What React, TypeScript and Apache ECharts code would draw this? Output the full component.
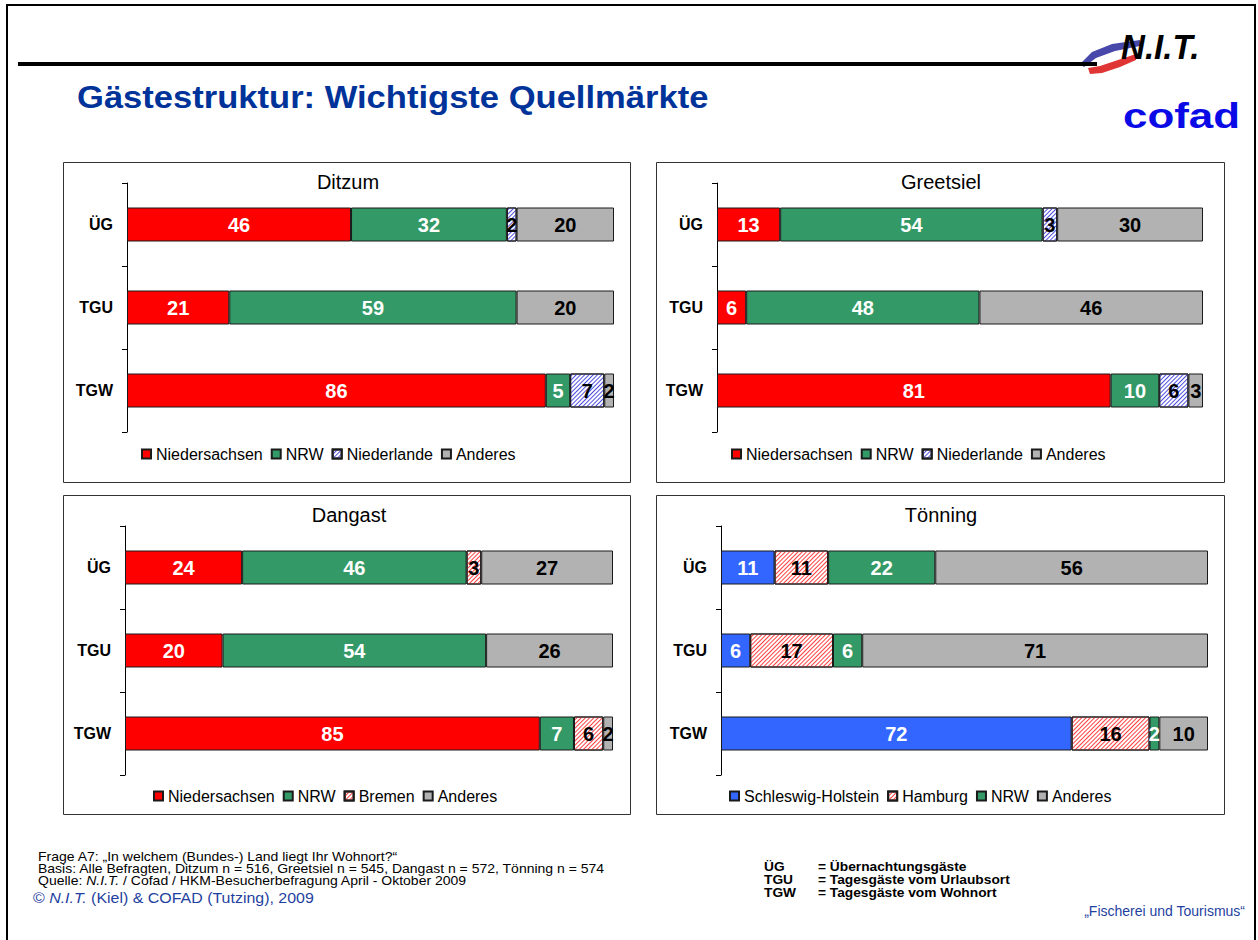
import { useEffect, useRef } from "react";
import * as echarts from "echarts";

// ---------- data ----------
const categories = ["ÜG", "TGU", "TGW"];

const ditzumNiedersachsen = [46, 21, 86];
const ditzumNRW = [32, 59, 5];
const ditzumNiederlande = [2, null, 7];
const ditzumAnderes = [20, 20, 2];

const greetsielNiedersachsen = [13, 6, 81];
const greetsielNRW = [54, 48, 10];
const greetsielNiederlande = [3, null, 6];
const greetsielAnderes = [30, 46, 3];

const dangastNiedersachsen = [24, 20, 85];
const dangastNRW = [46, 54, 7];
const dangastBremen = [3, null, 6];
const dangastAnderes = [27, 26, 2];

const toenningSchleswigHolstein = [11, 6, 72];
const toenningHamburg = [11, 17, 16];
const toenningNRW = [22, 6, 2];
const toenningAnderes = [56, 71, 10];

const panelTitles = ["Ditzum", "Greetsiel", "Dangast", "Tönning"];

const panelSeries = [
  [
    { name: "Niedersachsen", data: ditzumNiedersachsen },
    { name: "NRW", data: ditzumNRW },
    { name: "Niederlande", data: ditzumNiederlande },
    { name: "Anderes", data: ditzumAnderes },
  ],
  [
    { name: "Niedersachsen", data: greetsielNiedersachsen },
    { name: "NRW", data: greetsielNRW },
    { name: "Niederlande", data: greetsielNiederlande },
    { name: "Anderes", data: greetsielAnderes },
  ],
  [
    { name: "Niedersachsen", data: dangastNiedersachsen },
    { name: "NRW", data: dangastNRW },
    { name: "Bremen", data: dangastBremen },
    { name: "Anderes", data: dangastAnderes },
  ],
  [
    { name: "Schleswig-Holstein", data: toenningSchleswigHolstein },
    { name: "Hamburg", data: toenningHamburg },
    { name: "NRW", data: toenningNRW },
    { name: "Anderes", data: toenningAnderes },
  ],
];

// ---------- layout / style ----------
const FONT = '"Liberation Sans", Arial, Helvetica, sans-serif';
const BLUE_TEXT = "#003399";
const FOOT_BLUE = "#1f3f9f";

const layout = [
  { frame: [63, 162, 567, 320], grid: { left: 127, top: 183, width: 487, height: 249 }, title: [348, 182], legend: { left: 141, top: 446 } },
  { frame: [656, 162, 568, 320], grid: { left: 717, top: 183, width: 486, height: 249 }, title: [941, 182], legend: { left: 731, top: 446 } },
  { frame: [63, 495, 567, 319], grid: { left: 125, top: 526, width: 488, height: 249 }, title: [349, 515], legend: { left: 153, top: 788 } },
  { frame: [656, 495, 568, 319], grid: { left: 721, top: 526, width: 487, height: 249 }, title: [941, 515], legend: { left: 729, top: 788 } },
];

const hatch = (color: string, gap: number) => ({
  symbol: "rect",
  symbolSize: 1,
  color,
  dashArrayX: [1, 0],
  dashArrayY: [1, gap],
  rotation: -Math.PI / 4,
});

function styleFor(name: string) {
  switch (name) {
    case "Niedersachsen":
      return { item: { color: "#ff0000" }, label: "#ffffff" };
    case "NRW":
      return { item: { color: "#339966" }, label: "#ffffff" };
    case "Schleswig-Holstein":
      return { item: { color: "#3366ff" }, label: "#ffffff" };
    case "Niederlande":
      return { item: { color: "#ffffff", decal: hatch("#4f4fe0", 1.5) }, label: "#000000" };
    case "Bremen":
    case "Hamburg":
      return { item: { color: "#ffffff", decal: hatch("#ff4040", 2) }, label: "#000000" };
    default:
      return { item: { color: "#b2b2b2" }, label: "#000000" };
  }
}

function buildOption() {
  const grid = layout.map((l) => ({ ...l.grid, containLabel: false }));
  const xAxis = layout.map((_, i) => ({
    type: "value",
    gridIndex: i,
    min: 0,
    max: 100,
    show: false,
  }));
  const yAxis = layout.map((_, i) => ({
    type: "category",
    gridIndex: i,
    data: categories,
    inverse: true,
    axisLine: { show: true, lineStyle: { color: "#000000", width: 1 } },
    axisTick: { show: true, length: 5, lineStyle: { color: "#000000" } },
    axisLabel: {
      fontFamily: FONT,
      fontWeight: "bold",
      fontSize: 16,
      color: "#000000",
      margin: 14,
    },
    splitLine: { show: false },
  }));

  const series: any[] = [];
  panelSeries.forEach((list, i) => {
    list.forEach((s) => {
      const st = styleFor(s.name);
      series.push({
        type: "bar",
        name: s.name,
        stack: "p" + i,
        xAxisIndex: i,
        yAxisIndex: i,
        data: s.data,
        barWidth: 34,
        itemStyle: { ...st.item, borderColor: "#1a1a1a", borderWidth: 1 },
        label: {
          show: true,
          position: "inside",
          color: st.label,
          fontFamily: FONT,
          fontWeight: "bold",
          fontSize: 20,
        },
        emphasis: { disabled: true },
      });
    });
  });

  const legend = layout.map((l, i) => ({
    data: panelSeries[i].map((s) => s.name),
    left: l.legend.left,
    top: l.legend.top,
    orient: "horizontal",
    icon: "rect",
    itemWidth: 9,
    itemHeight: 9,
    itemGap: 8,
    padding: 0,
    selectedMode: false,
    textStyle: { fontFamily: FONT, fontSize: 16, color: "#000000" },
  }));

  const graphic: any[] = [];
  // page frame
  graphic.push({
    type: "rect",
    shape: { x: 7, y: 5, width: 1248, height: 945 },
    style: { fill: "none", stroke: "#000000", lineWidth: 2 },
    silent: true,
  });
  // logo swooshes
  graphic.push({
    type: "polygon",
    shape: { points: [[1080, 64], [1092, 52], [1112, 44], [1140, 40], [1140, 46], [1115, 51], [1096, 58], [1084, 67]] },
    style: { fill: "#4848aa" },
  });
  graphic.push({
    type: "polygon",
    shape: { points: [[1088, 68], [1100, 66], [1118, 60], [1136, 54], [1136, 60], [1120, 67], [1102, 73], [1090, 74]] },
    style: { fill: "#e03535" },
  });
  // horizontal rule
  graphic.push({
    type: "line",
    shape: { x1: 18, y1: 64, x2: 1097, y2: 64 },
    style: { stroke: "#000000", lineWidth: 4 },
  });
  // N.I.T. logo text
  graphic.push({
    type: "text",
    x: 1121,
    y: 64,
    scaleX: 0.92,
    style: {
      text: "N.I.T.",
      fontFamily: FONT,
      fontSize: 36,
      fontWeight: "bold",
      fontStyle: "italic",
      fill: "#000000",
      align: "left",
      verticalAlign: "bottom",
    },
  });
  // cofad
  graphic.push({
    type: "text",
    x: 1123,
    y: 116,
    scaleX: 1.22,
    style: {
      text: "cofad",
      fontFamily: FONT,
      fontSize: 36,
      fontWeight: "bold",
      fill: "#0a0ae6",
      align: "left",
      verticalAlign: "middle",
    },
  });
  // main title
  graphic.push({
    type: "text",
    x: 77,
    y: 97,
    scaleX: 1.08,
    style: {
      text: "Gästestruktur: Wichtigste Quellmärkte",
      fontFamily: FONT,
      fontSize: 32,
      fontWeight: "bold",
      fill: BLUE_TEXT,
      align: "left",
      verticalAlign: "middle",
    },
  });
  // panel frames and titles
  layout.forEach((l, i) => {
    graphic.push({
      type: "rect",
      shape: { x: l.frame[0] + 0.5, y: l.frame[1] + 0.5, width: l.frame[2], height: l.frame[3] },
      style: { fill: "none", stroke: "#333333", lineWidth: 1 },
      silent: true,
      z: -1,
    });
    graphic.push({
      type: "text",
      x: l.title[0],
      y: l.title[1],
      style: {
        text: panelTitles[i],
        fontFamily: FONT,
        fontSize: 20,
        fill: "#000000",
        align: "center",
        verticalAlign: "middle",
      },
    });
  });
  // footer left
  const footLines = [
    { y: 857, text: "Frage A7: „In welchem (Bundes-) Land liegt Ihr Wohnort?“" },
    { y: 869, text: "Basis: Alle Befragten, Ditzum n = 516, Greetsiel n = 545, Dangast n = 572, Tönning n = 574" },
    { y: 881, text: "Quelle: {i|N.I.T.} / Cofad / HKM-Besucherbefragung April - Oktober 2009" },
  ];
  footLines.forEach((f) => {
    graphic.push({
      type: "text",
      x: 38,
      y: f.y,
      scaleX: 1.12,
      style: {
        text: f.text,
        fontFamily: FONT,
        fontSize: 12.5,
        fill: "#000000",
        align: "left",
        verticalAlign: "middle",
        rich: { i: { fontFamily: FONT, fontSize: 12.5, fontStyle: "italic", fill: "#000000" } },
      },
    });
  });
  graphic.push({
    type: "text",
    x: 33,
    y: 898,
    scaleX: 1.1,
    style: {
      text: "© {i|N.I.T.} (Kiel) & COFAD (Tutzing), 2009",
      fontFamily: FONT,
      fontSize: 14.5,
      fill: FOOT_BLUE,
      align: "left",
      verticalAlign: "middle",
      rich: { i: { fontFamily: FONT, fontSize: 14.5, fontStyle: "italic", fill: FOOT_BLUE } },
    },
  });
  // footer right (abbreviations)
  const abbr = [
    { y: 867, k: "ÜG", v: "= Übernachtungsgäste" },
    { y: 880, k: "TGU", v: "= Tagesgäste vom Urlaubsort" },
    { y: 893, k: "TGW", v: "= Tagesgäste vom Wohnort" },
  ];
  abbr.forEach((a) => {
    graphic.push({
      type: "text",
      x: 764,
      y: a.y,
      scaleX: 1.1,
      style: { text: a.k, fontFamily: FONT, fontSize: 12.5, fontWeight: "bold", fill: "#000000", align: "left", verticalAlign: "middle" },
    });
    graphic.push({
      type: "text",
      x: 818,
      y: a.y,
      scaleX: 1.1,
      style: { text: a.v, fontFamily: FONT, fontSize: 12.5, fontWeight: "bold", fill: "#000000", align: "left", verticalAlign: "middle" },
    });
  });
  graphic.push({
    type: "text",
    x: 1245,
    y: 911,
    style: {
      text: "„Fischerei und Tourismus“",
      fontFamily: FONT,
      fontSize: 14,
      fill: FOOT_BLUE,
      align: "right",
      verticalAlign: "middle",
    },
  });

  return {
    animation: false,
    backgroundColor: "#ffffff",
    grid,
    xAxis,
    yAxis,
    series,
    legend,
    graphic,
  };
}

export default function App() {
  const ref = useRef<HTMLDivElement>(null);
  useEffect(() => {
    if (!ref.current) return;
    const chart = echarts.init(ref.current, undefined, { renderer: "svg" });
    chart.setOption(buildOption() as any);
    return () => chart.dispose();
  }, []);
  return (
    <div
      ref={ref}
      style={{ position: "absolute", left: 0, top: 0, width: 1258, height: 940, background: "#ffffff" }}
    />
  );
}
